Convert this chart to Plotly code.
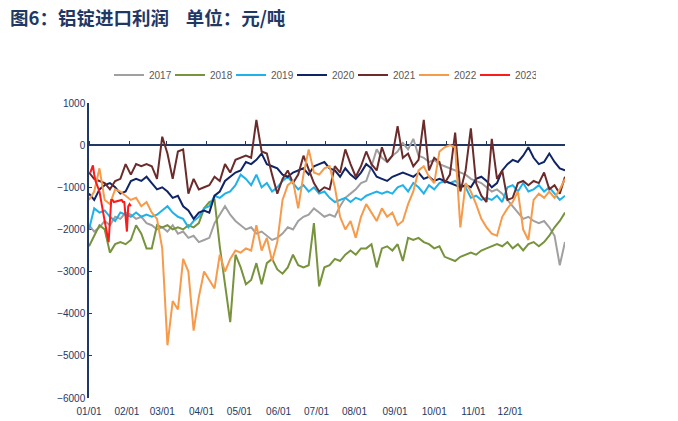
import pandas as pd
import plotly.graph_objects as go

# ---------------- data (day-of-year overlay; dummy year 2021) ----------------
GRID_START = "2021-01-01"
GRID_FREQ = "4D"
GRID_N = 92

Y2017 = [-1900, -2050, -1950, -1800, -1900, -1700, -1750, -1600, -1650, -1750,
         -1700, -1850, -1900, -2000, -1950, -2050, -1900, -2100, -2050, -2200,
         -2150, -2300, -2250, -2200, -1850, -1650, -1450, -1650, -1800, -1900,
         -2000, -1950, -2100, -2050, -2150, -2250, -2200, -2100, -1950, -2000,
         -1800, -1700, -1650, -1500, -1600, -1700, -1650, -1700, -1450, -1250,
         -1150, -1050, -900, -850, -500, -100, -300, -400, -250, -150,
         50, -100, 150, -250, -300, -400, -350, -450, -500, -550,
         -600, -650, -700, -800, -850, -900, -1000, -1100, -1050, -1150,
         -1300, -1450, -1600, -1750, -1700, -1800, -1850, -1800, -1950, -2150,
         -2850, -2300]

Y2018 = [-2400, -2150, -1900, -2000, -2550, -2350, -2300, -2350, -2250, -1900,
         -2100, -2450, -2450, -1900, -1950, -1900, -2000, -1950, -2000, -1900,
         -1950, -1850, -1500, -1350, -1300, -2400, -3300, -4200, -2600, -2900,
         -3300, -3200, -2800, -3300, -2800, -2700, -2950, -3050, -2900, -2600,
         -2850, -2900, -2850, -1850, -3350, -2900, -2850, -2700, -2750, -2600,
         -2500, -2600, -2450, -2450, -2350, -2900, -2450, -2400, -2500, -2350,
         -2750, -2200, -2250, -2200, -2300, -2350, -2450, -2400, -2650, -2700,
         -2750, -2650, -2600, -2550, -2600, -2500, -2450, -2400, -2350, -2400,
         -2300, -2450, -2350, -2500, -2350, -2300, -2400, -2300, -2150, -1950,
         -1800, -1600]

Y2019 = [-2000, -1500, -1600, -1550, -1700, -1800, -1600, -1650, -1700, -1600,
         -1700, -1650, -1700, -1650, -1550, -1450, -1600, -1700, -1750, -1950,
         -1800, -1700, -1500, -1450, -1200, -1250, -1150, -1100, -950, -700,
         -800, -950, -700, -1000, -900, -1100, -1000, -850, -750, -900,
         -1050, -950, -1100, -1000, -1150, -1100, -1250, -1350, -1300, -1250,
         -1350, -1250, -1300, -1200, -1150, -1100, -1150, -1100, -1150, -1000,
         -950, -1100, -900, -1000, -1150, -950, -1050, -900, -850, -900,
         -850, -950, -1000, -1250, -1200, -1300, -1250, -1300, -1200, -1350,
         -1000, -950, -1100, -900, -1100, -1050, -950, -1100, -1000, -1150,
         -1300, -1200]

Y2020 = [-1150, -1300, -1050, -950, -900, -1000, -1150, -1100, -850, -800,
         -850, -750, -900, -1050, -1000, -1100, -1250, -1200, -1450, -1550,
         -1750, -1600, -1550, -1600, -1200, -1100, -850, -750, -650, -600,
         -400, -450, -350, -200, -450, -500, -550, -700, -750, -650,
         -600, -550, -700, -500, -450, -400, -550, -600, -750, -550,
         -700, -800, -650, -450, -550, -750, -800, -850, -750, -700,
         -650, -700, -750, -650, -800, -750, -850, -800, -850, -900,
         -950, -1000, -950, -1000, -800, -750, -850, -1000, -900, -600,
         -450, -350, -400, -250, -50, -300, -450, -400, -200, -400,
         -550, -600]

Y2021 = [-650, -800, -850, -900, -1050, -850, -800, -450, -700, -450,
         -500, -450, -500, -800, 200, -200, -800, -150, -100, -1150,
         -800, -1050, -1000, -950, -750, -850, -450, -650, -350, -300,
         -250, -300, 600, -150, -200, -700, -1150, -800, -600, -900,
         -700, -250, -600, -900, -1100, -1000, -1050, -500, -650, -100,
         -450, -750, -500, -150, -450, -600, -50, -400, -250, 450,
         -300, -200, -500, -350, 600, -600, -300, -400, -900, -700,
         300, -1100, -600, 400, -900, -1200, -1350, 150, -800, -600,
         -1300, -1250, -900, -850, -950, -850, -900, -650, -1050, -950,
         -1150, -750]

Y2022 = [-1300, -1100, -550, -1300, -1400, -1050, -1100, -1200, -1300, -1250,
         -1450, -1350, -1600, -1750, -2450, -4750, -3700, -3900, -2700, -3000,
         -4400, -3600, -3000, -3200, -3400, -2600, -3000, -2700, -2500, -2550,
         -2450, -2500, -1900, -2500, -2200, -2750, -2300, -1300, -950, -850,
         -1500, -700, -100, -650, -700, -550, -500, -1000, -1700, -2000,
         -1800, -2200, -1700, -1400, -1600, -1800, -1500, -1700, -1600, -1900,
         -1800, -1400, -1100, -600, -500, -750, -900, -150, -50, 0,
         -50, -1950, -900, -1100, -1400, -1750, -1950, -2100, -2150, -1700,
         -1500, -1350, -1100, -2000, -2250, -1300, -1150, -1250, -1100, -1250,
         -1050, -800]

DATES_2023 = ["01-02", "01-04", "01-05", "01-06", "01-09", "01-10", "01-11",
              "01-12", "01-13", "01-16", "01-17", "01-18", "01-19", "01-20",
              "01-26", "01-27", "01-28", "01-30", "01-31", "02-01", "02-02"]
Y2023 = [-650, -480, -700, -850, -1100, -1300, -1500,
         -1650, -1800, -2300, -1800, -1300, -1300, -1350,
         -1300, -1350, -1350, -2050, -1450, -1400, -1450]

TICK_DATES = ["01-01", "01-30", "02-26", "03-28", "04-26", "05-26",
              "06-24", "07-23", "08-23", "09-22", "10-22", "11-19"]
TICK_LABELS = ["01/01", "02/01", "03/01", "04/01", "05/01", "06/01",
               "07/01", "08/01", "09/01", "10/01", "11/01", "12/01"]

YEAR = "2021"
grid = pd.date_range(GRID_START, periods=GRID_N, freq=GRID_FREQ)
dates_2023 = pd.to_datetime([f"{YEAR}-{d}" for d in DATES_2023])
tick_dates = [f"{YEAR}-{d}" for d in TICK_DATES]

NAVY = "#1F3864"
series = [
    ("2017", grid, Y2017, "#A0A0A0", "x"),
    ("2018", grid, Y2018, "#77933C", "x"),
    ("2019", grid, Y2019, "#1EB1EA", "x"),
    ("2020", grid, Y2020, "#0F2466", "x"),
    ("2021", grid, Y2021, "#6B2B2B", "x"),
    ("2022", grid, Y2022, "#F79A4A", "x"),
    ("2023", dates_2023, Y2023, "#FF1A1A", "x2"),
]

fig = go.Figure()
for name, x, y, color, xa in series:
    fig.add_trace(go.Scatter(x=x, y=y, name=name, mode="lines", xaxis=xa, yaxis="y",
                             line=dict(color=color, width=2)))
# invisible spacer legend entry so the last label is not clipped
fig.add_trace(go.Scatter(x=[], y=[], name=" ", mode="lines", xaxis="x2",
                         line=dict(color="rgba(0,0,0,0)", width=0),
                         hoverinfo="skip"))

# page body adds an 8px offset; lay out in window pixels
OFF = 8
W, H = 678, 421
PL, PT, PW, PH = 89, 103, 476, 295       # plot area in window pixels
L, T = PL - OFF, PT - OFF
R, B = W - L - PW, H - T - PH

def px(xw):
    return (xw - PL) / PW

def py(yw):
    return (PT + PH - yw) / PH

fig.update_layout(
    width=W, height=H,
    margin=dict(l=L, r=R, t=T, b=B, autoexpand=False),
    paper_bgcolor="white", plot_bgcolor="white",
    font=dict(family="Liberation Sans, Arial, sans-serif", size=10, color=NAVY),
    title=dict(text="图6：铝锭进口利润    单位：元/吨",
               font=dict(family="Noto Sans CJK SC", size=18.5, color=NAVY, weight="bold"),
               xref="container", yref="container", x=(10 - OFF) / W, xanchor="left",
               y=1 - (19 - OFF) / H, yanchor="middle", automargin=False),
    # zero-line axis carrying the data
    xaxis=dict(type="date", range=[f"{YEAR}-01-01", f"{YEAR}-12-31"],
               anchor="free", position=6 / 7, side="top", automargin=False,
               showline=True, linecolor=NAVY, linewidth=1.5,
               ticks="outside", ticklen=3, tickcolor=NAVY, tickwidth=1,
               dtick="M1", tick0=f"{YEAR}-01-01", showticklabels=False,
               showgrid=False, zeroline=False, layer="below traces"),
    # bottom label axis
    xaxis2=dict(type="date", overlaying="x", matches="x", anchor="y", side="bottom",
                automargin=False,
                tickmode="array", tickvals=tick_dates, ticktext=TICK_LABELS,
                showgrid=False, showline=False, zeroline=False, ticks="",
                ticklabelstandoff=6, tickfont=dict(size=10, color=NAVY)),
    yaxis=dict(range=[-6000, 1000], dtick=1000, tickmode="linear", tick0=0,
               automargin=False,
               showgrid=False, zeroline=False, showline=True, linecolor=NAVY,
               linewidth=1.5, ticks="inside", ticklen=3, tickcolor=NAVY,
               tickfont=dict(size=10, color=NAVY), layer="below traces"),
    legend=dict(orientation="h", x=px(109), y=py(75), xanchor="left",
                yanchor="middle", font=dict(size=10, color="#595959"),
                bgcolor="rgba(0,0,0,0)", entrywidth=16, entrywidthmode="pixels",
                traceorder="normal"),
    showlegend=True,
    shapes=[
        dict(type="line", xref="paper", yref="paper", x0=px(5), x1=px(5),
             y0=py(25), y1=py(421), line=dict(color="#C8C8C8", width=1)),
        dict(type="line", xref="paper", yref="paper", x0=px(672), x1=px(672),
             y0=py(25), y1=py(421), line=dict(color="#C8C8C8", width=1)),
    ],
)

fig.write_html("out.html")
